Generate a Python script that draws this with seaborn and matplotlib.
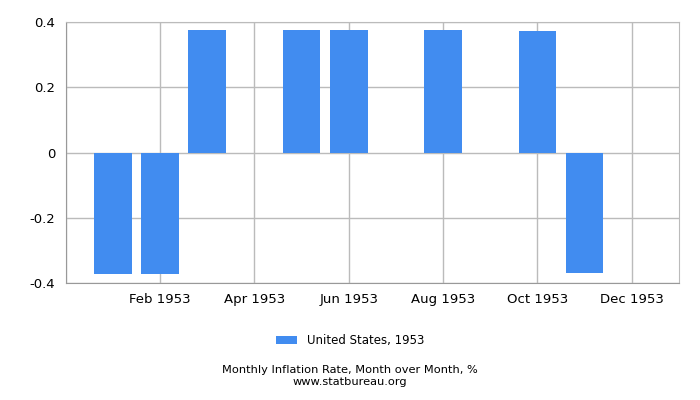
import pandas as pd
import seaborn as sns
import matplotlib.pyplot as plt

# --- data ---
months = ['Jan', 'Feb', 'Mar', 'Apr', 'May', 'Jun',
          'Jul', 'Aug', 'Sep', 'Oct', 'Nov', 'Dec']
rates = [-0.373, -0.373, 0.377, 0.0, 0.377, 0.374,
         0.0, 0.374, 0.0, 0.371, -0.370, 0.0]
tick_months = ['Feb', 'Apr', 'Jun', 'Aug', 'Oct', 'Dec']
year = 1953

df = pd.DataFrame({'month': months, 'rate': rates})

sns.set_style('white')
plt.rcParams['font.family'] = ['DejaVu Sans']
plt.rcParams['text.color'] = 'black'

fig = plt.figure(figsize=(7, 4), dpi=100)
ax = fig.add_axes([0.0936, 0.2925, 0.8764, 0.6525])

sns.barplot(data=df, x='month', y='rate', color='#418CF0', saturation=1,
            width=0.8, linewidth=0, ax=ax, label=f'United States, {year}',
            zorder=3)

# axes limits and ticks (extra unlabeled tick at the left corner)
ax.set_xlim(-1, 12)
ax.set_ylim(-0.4, 0.4)
ax.set_xticks([-1] + [months.index(m) for m in tick_months])
ax.set_xticklabels([''] + [f'{m} {year}' for m in tick_months], fontsize=9.5)
ax.set_yticks([-0.4, -0.2, 0, 0.2, 0.4])
ax.set_yticklabels(['-0.4', '-0.2', '0', '0.2', '0.4'], fontsize=9.5)
ax.tick_params(axis='both', length=4, width=1, color='black',
               labelcolor='black', direction='out')
ax.set_xlabel('')
ax.set_ylabel('')

ax.grid(True, color='#BBBBBB', linewidth=1, zorder=0)
ax.set_axisbelow(True)
for side in ['top', 'right']:
    ax.spines[side].set_color('#BBBBBB')
for side in ['left', 'bottom']:
    ax.spines[side].set_color('#999999')

# legend and footer text
handles, labels = ax.get_legend_handles_labels()
if ax.get_legend() is not None:
    ax.get_legend().remove()
fig.legend(handles, labels, loc='center', bbox_to_anchor=(0.5, 0.148),
           frameon=False, fontsize=8.5, handlelength=1.8, handleheight=0.7,
           labelcolor='black')
fig.text(0.5, 0.076, 'Monthly Inflation Rate, Month over Month, %',
         ha='center', va='center', fontsize=8.2)
fig.text(0.5, 0.046, 'www.statbureau.org', ha='center', va='center',
         fontsize=8.2)

fig.savefig('out.png', dpi=100)
